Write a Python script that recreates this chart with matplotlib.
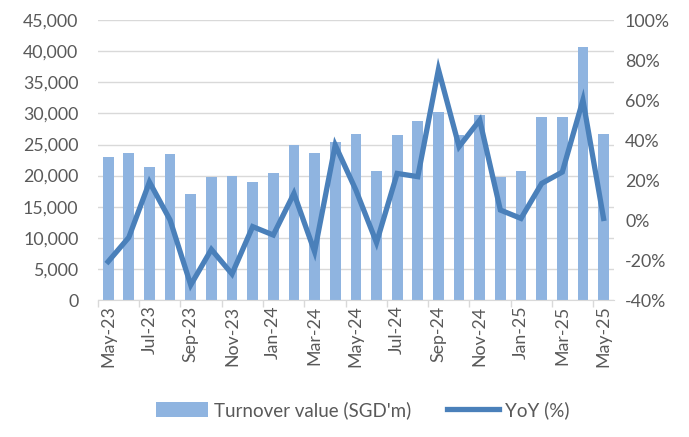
import matplotlib
matplotlib.use("Agg")
import matplotlib.pyplot as plt
import numpy as np
from matplotlib.ticker import FuncFormatter, MultipleLocator

plt.rcParams['font.family'] = ['Lato', 'DejaVu Sans']

months = ["May-23", "Jun-23", "Jul-23", "Aug-23", "Sep-23", "Oct-23", "Nov-23", "Dec-23",
          "Jan-24", "Feb-24", "Mar-24", "Apr-24", "May-24", "Jun-24", "Jul-24", "Aug-24",
          "Sep-24", "Oct-24", "Nov-24", "Dec-24", "Jan-25", "Feb-25", "Mar-25", "Apr-25", "May-25"]
turnover = [23000, 23700, 21400, 23400, 17100, 19700, 19900, 18900,
            20400, 24900, 23700, 25400, 26700, 20800, 26500, 28700,
            30200, 26500, 29800, 19800, 20700, 29500, 29500, 40600, 26700]
yoy = [-20.8, -8.7, 19.0, 0.0, -32.5, -14.7, -27.0, -3.3,
       -7.5, 13.3, -15.8, 37.5, 15.0, -11.3, 23.3, 21.7,
       75.3, 36.7, 50.0, 5.0, 0.8, 18.3, 24.0, 60.0, 0.8]

bar_color = "#8FB4E0"
line_color = "#4A80BA"
text_color = "#595959"
grid_color = "#D9D9D9"

fig = plt.figure(figsize=(6.89, 4.37), dpi=100)
ax = fig.add_axes([0.142, 0.3135, 0.749, 0.6405])
ax2 = ax.twinx()

x = np.arange(len(months))
ax.bar(x, turnover, width=0.52, color=bar_color, label="Turnover value (SGD'm)", zorder=2)
ax2.plot(x, yoy, color=line_color, linewidth=3.8, label="YoY (%)", solid_joinstyle='miter', zorder=3)

ax.set_xlim(-0.5, len(months) - 0.5)
ax.set_ylim(0, 45000)
ax.yaxis.set_major_locator(MultipleLocator(5000))
ax.yaxis.set_major_formatter(FuncFormatter(lambda v, p: f"{int(v):,}"))
ax2.set_ylim(-40, 100)
ax2.yaxis.set_major_locator(MultipleLocator(20))
ax2.yaxis.set_major_formatter(FuncFormatter(lambda v, p: f"{int(round(v))}%"))

ax.grid(axis='y', color=grid_color, linewidth=1.0, zorder=0)
ax.set_axisbelow(True)

ax.set_xticks(x[::2])
ax.set_xticklabels(months[::2], rotation=90)
ax.set_xticks(np.arange(-0.5, len(months), 2), minor=True)
ax.tick_params(axis='x', which='major', length=0, pad=4)
ax.tick_params(axis='x', which='minor', length=5, color=grid_color, width=1)

for a in (ax, ax2):
    for s in a.spines.values():
        s.set_visible(False)
ax.spines['bottom'].set_visible(True)
ax.spines['bottom'].set_color(grid_color)

ax.tick_params(axis='y', length=0, pad=14, labelsize=12.8, labelcolor=text_color)
ax2.tick_params(axis='y', length=0, pad=8, labelsize=12.8, labelcolor=text_color)
ax.tick_params(axis='x', labelsize=12.8, labelcolor=text_color)

h1, l1 = ax.get_legend_handles_labels()
h2, l2 = ax2.get_legend_handles_labels()
leg = fig.legend(h1 + h2, l1 + l2, loc='center', bbox_to_anchor=(0.526, 0.062), ncol=2,
                 frameon=False, fontsize=13.5, handlelength=2.8, handleheight=0.8,
                 columnspacing=1.9, handletextpad=0.3)
for t in leg.get_texts():
    t.set_color(text_color)

fig.savefig("out.png", dpi=100)
